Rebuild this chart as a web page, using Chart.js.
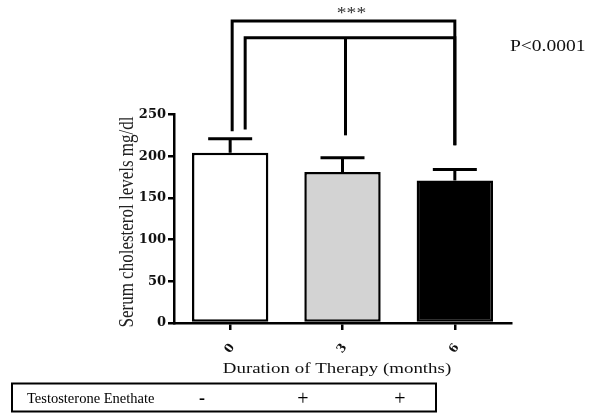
<!DOCTYPE html>
<html>
<head>
<meta charset="utf-8">
<script src="https://cdn.jsdelivr.net/npm/chart.js@4.4.1/dist/chart.umd.min.js"></script>
<style>
  html, body { margin: 0; padding: 0; background: #ffffff; }
  canvas { display: block; }
</style>
</head>
<body>
<canvas id="c" width="598" height="413"></canvas>
<script>
// ---- data ----
const categories = ['0', '3', '6'];
const means = [204, 181, 171];
const sds = [17, 17, 13];
const barColors = ['#ffffff', '#d3d3d3', '#000000'];
const yTicks = [0, 50, 100, 150, 200, 250];
const treatmentLabel = 'Testosterone Enethate';
const treatmentSigns = ['-', '+', '+'];
const yTitle = 'Serum cholesterol levels mg/dl';
const xTitle = 'Duration of Therapy (months)';
const pText = 'P<0.0001';
const starsText = '***';
// brackets: [fromIndex, toIndex, level (data units), leftLegBottom, rightLegBottom]
const bracketOuter = [0, 2, 362, 230, 213];
const bracketInner = [0, 2, 342, 232, 213];
const bracketMidLeg = [1, 342, 225];

const STRETCH = 1.22;

function stretchedText(ctx, text, x, y, font, align, baseline, color) {
  ctx.save();
  ctx.font = font;
  ctx.fillStyle = color || '#000';
  ctx.textAlign = align || 'left';
  ctx.textBaseline = baseline || 'alphabetic';
  ctx.translate(x, y);
  ctx.scale(STRETCH, 1);
  ctx.fillText(text, 0, 0);
  ctx.restore();
}

const overlay = {
  id: 'overlay',
  afterDatasetsDraw(chart) {
    const ctx = chart.ctx;
    const xs = chart.scales.x, ys = chart.scales.y;
    // error bars
    ctx.save();
    ctx.strokeStyle = '#000';
    ctx.lineWidth = 3;
    ctx.lineCap = 'butt';
    means.forEach((m, i) => {
      const cx = xs.getPixelForValue(i);
      const yTop = ys.getPixelForValue(m);
      const yErr = ys.getPixelForValue(m + sds[i]);
      ctx.beginPath();
      ctx.moveTo(cx, yTop);
      ctx.lineTo(cx, yErr);
      ctx.moveTo(cx - 22, yErr);
      ctx.lineTo(cx + 22, yErr);
      ctx.stroke();
    });
    // brackets
    ctx.lineJoin = 'miter';
    const drawBracket = (b, lx) => {
      const x1 = xs.getPixelForValue(b[0]) + lx;
      const x2 = xs.getPixelForValue(b[1]);
      const yl = ys.getPixelForValue(b[2]);
      ctx.beginPath();
      ctx.moveTo(x1, ys.getPixelForValue(b[3]));
      ctx.lineTo(x1, yl);
      ctx.lineTo(x2, yl);
      ctx.lineTo(x2, ys.getPixelForValue(b[4]));
      ctx.stroke();
    };
    drawBracket(bracketOuter, 2);
    drawBracket(bracketInner, 15);
    const mx = xs.getPixelForValue(bracketMidLeg[0]) + 3;
    ctx.beginPath();
    ctx.moveTo(mx, ys.getPixelForValue(bracketMidLeg[1]));
    ctx.lineTo(mx, ys.getPixelForValue(bracketMidLeg[2]));
    ctx.stroke();
    ctx.restore();

    // stars
    stretchedText(ctx, starsText, xs.getPixelForValue(1) + 9, 18, '16px "Liberation Serif"', 'center', 'alphabetic', '#333');

    // P value
    stretchedText(ctx, pText, 510, 51, '16px "Liberation Serif"', 'left', 'alphabetic', '#111');

    // axis titles
    stretchedText(ctx, xTitle, 337, 373, '15.5px "Liberation Serif"', 'center', 'alphabetic', '#111');
    ctx.save();
    ctx.font = '17px "Liberation Serif"';
    ctx.fillStyle = '#222';
    ctx.textAlign = 'center';
    ctx.textBaseline = 'middle';
    ctx.translate(128, 222);
    ctx.scale(STRETCH, 1);
    ctx.rotate(-Math.PI / 2);
    ctx.fillText(yTitle, 0, 0);
    ctx.restore();

    // treatment table
    ctx.save();
    ctx.strokeStyle = '#000';
    ctx.lineWidth = 2;
    ctx.strokeRect(12, 383.5, 424, 28);
    ctx.font = '14.5px "Liberation Serif"';
    ctx.fillStyle = '#000';
    ctx.textAlign = 'left';
    ctx.textBaseline = 'alphabetic';
    ctx.fillText(treatmentLabel, 27, 403);
    const signX = [202, 303, 400];
    ctx.textAlign = 'center';
    treatmentSigns.forEach((s, i) => {
      ctx.font = s === '-' ? 'bold 18px "Liberation Serif"' : '20px "Liberation Serif"';
      ctx.fillText(s, signX[i], s === '-' ? 404 : 405);
    });
    ctx.restore();
  }
};

new Chart(document.getElementById('c'), {
  type: 'bar',
  data: {
    labels: categories,
    datasets: [{
      data: means,
      backgroundColor: barColors,
      borderColor: '#000',
      borderWidth: 2.5,
      borderSkipped: false,
      barPercentage: 0.68,
      categoryPercentage: 1.0
    }]
  },
  options: {
    responsive: false,
    devicePixelRatio: 1,
    animation: false,
    layout: { padding: { left: 0, right: 87, top: 114.5, bottom: 37 } },
    plugins: { legend: { display: false }, tooltip: { enabled: false } },
    scales: {
      x: {
        afterFit(s) { s.height = 53; },
        grid: { display: true, offset: false, drawOnChartArea: false, drawTicks: true, tickLength: 7, color: '#000', lineWidth: 2.5 },
        border: { display: true, color: '#000', width: 2.5 },
        ticks: {
          color: '#111',
          font: { family: 'DejaVu Serif', weight: 'bold', size: 12 },
          minRotation: 55, maxRotation: 55,
          padding: 11,
          labelOffset: 2
        },
        title: { display: false }
      },
      y: {
        min: 0, max: 250,
        afterFit(s) { s.width = 174; },
        afterBuildTicks(s) { s.ticks = yTicks.map(v => ({ value: v })); },
        grid: { display: true, drawOnChartArea: false, drawTicks: true, tickLength: 6, color: '#000', lineWidth: 2.5 },
        border: { display: true, color: '#000', width: 2.5 },
        ticks: {
          color: '#111',
          font: { family: 'DejaVu Serif', weight: 'bold', size: 13 },
          padding: 2
        },
        title: { display: false }
      }
    }
  },
  plugins: [overlay]
});
</script>
</body>
</html>
